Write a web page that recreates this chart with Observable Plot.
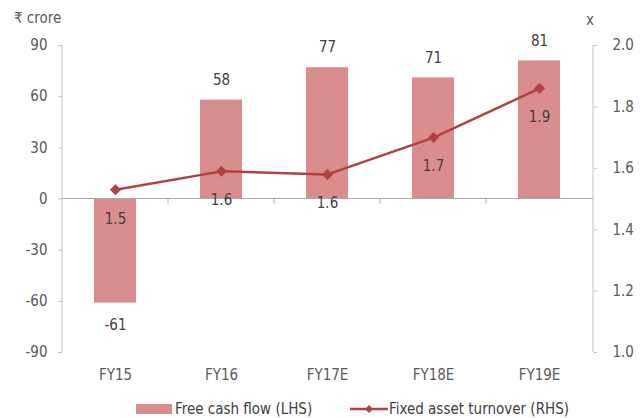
<!DOCTYPE html>
<html>
<head>
<meta charset="utf-8">
<script src="https://cdn.jsdelivr.net/npm/d3@7"></script>
<script src="https://cdn.jsdelivr.net/npm/@observablehq/plot@0.6"></script>
<style>
  body { margin: 0; background: #fff; font-family: "DejaVu Sans Condensed", "DejaVu Sans", sans-serif; }
  #wrap { position: relative; width: 640px; height: 418px; }
  #chart { position: absolute; left: 0; top: 0; }
  .unit { position: absolute; font-size: 15px; color: #595959; line-height: 18px; }
  #legend { position: absolute; top: 400px; left: 0; width: 640px; height: 18px; font-size: 15px; color: #404040; }
  #legend .item { position: absolute; top: 0; display: flex; align-items: center; height: 18px; }
  #legend .box { width: 36px; height: 10px; margin-right: 3px; }
</style>
</head>
<body>
<div id="wrap">
  <div id="chart"></div>
  <div class="unit" style="left:14px;top:9px;">₹ crore</div>
  <div class="unit" style="left:586px;top:11px;">x</div>
  <div id="legend"></div>
</div>
<script>
// Free cash flow (₹ crore, left axis) and fixed asset turnover (x, right axis)
const years = ["FY15", "FY16", "FY17E", "FY18E", "FY19E"];
const freeCashFlow = [-61, 58, 77, 71, 81];
const fixedAssetTurnover = [1.53, 1.59, 1.58, 1.70, 1.86];
const leftTicks = [-90, -60, -30, 0, 30, 60, 90];
const rightTicks = [1.0, 1.2, 1.4, 1.6, 1.8, 2.0];

const barColor = "#d98d8d";
const lineColor = "#b2403f";
const axisColor = "#c0c0c0";

// The right axis (1.0–2.0) is mapped onto the left domain (-90–90)
const rightToLeft = v => (v - 1.5) * 180;
const leftToRight = v => v / 180 + 1.5;

const rows = years.map((year, i) => ({
  year,
  fcf: freeCashFlow[i],
  fat: fixedAssetTurnover[i],
  fatY: rightToLeft(fixedAssetTurnover[i])
}));
const positive = rows.filter(d => d.fcf >= 0);
const negative = rows.filter(d => d.fcf < 0);

// Axis lines on both sides plus category boundary ticks below the zero line
function frameAndTicks(index, scales, values, dimensions) {
  const x = scales.x, y = scales.y;
  const bw = x.bandwidth(), step = x.step();
  const g = d3.create("svg:g").attr("stroke", axisColor).attr("fill", "none");
  const left = dimensions.marginLeft, right = dimensions.width - dimensions.marginRight;
  g.append("line").attr("x1", left).attr("x2", left).attr("y1", y(90)).attr("y2", y(-90));
  g.append("line").attr("x1", right).attr("x2", right).attr("y1", y(90)).attr("y2", y(-90));
  const y0 = y(0);
  g.append("line").attr("x1", left).attr("x2", right).attr("y1", y0).attr("y2", y0).attr("stroke", "#a8a8a8");
  for (let i = 1; i < years.length; i++) {
    const bx = x(years[i]) + bw / 2 - step / 2;
    g.append("line").attr("x1", bx).attr("x2", bx).attr("y1", y0).attr("y2", y0 + 5).attr("stroke", "#a8a8a8");
  }
  return g.node();
}

const chart = Plot.plot({
  width: 640,
  height: 400,
  marginLeft: 62,
  marginRight: 47,
  marginTop: 45,
  marginBottom: 48,
  style: { fontFamily: "'DejaVu Sans Condensed', 'DejaVu Sans', sans-serif", fontSize: "15px", color: "#595959", background: "transparent" },
  x: { domain: years, paddingInner: 0.6, paddingOuter: 0.3, axis: null, label: null },
  y: { domain: [-90, 90], axis: null, label: null },
  marks: [
    Plot.barY(rows, { x: "year", y: "fcf", fill: barColor }),
    frameAndTicks,
    Plot.axisX({ anchor: "bottom", tickSize: 0, tickPadding: 17, fill: "#595959", label: null }),
    Plot.axisY(leftTicks, { anchor: "left", tickSize: 4, tickPadding: 11, stroke: axisColor, fill: "#595959", label: null, tickFormat: d => String(d) }),
    Plot.axisY(rightTicks.map(rightToLeft), { anchor: "right", tickSize: 3, tickPadding: 16, stroke: axisColor, fill: "#595959", label: null, tickFormat: d => leftToRight(d).toFixed(1) }),
    Plot.line(rows, { x: "year", y: "fatY", stroke: lineColor, strokeWidth: 2.5 }),
    Plot.dot(rows, { x: "year", y: "fatY", symbol: "diamond2", r: 4, fill: lineColor, stroke: lineColor, strokeWidth: 1.5 }),
    Plot.text(positive, { x: "year", y: "fcf", text: d => String(d.fcf), dy: -20, fill: "#404040", fontSize: 15 }),
    Plot.text(negative, { x: "year", y: "fcf", text: d => String(d.fcf), dy: 22, fill: "#404040", fontSize: 15 }),
    Plot.text(rows, { x: "year", y: "fatY", text: d => d.fat.toFixed(1), dy: 29, fill: "#404040", fontSize: 15 })
  ]
});
document.getElementById("chart").appendChild(chart);

// Legend below the chart
const legend = d3.select("#legend");
const item1 = legend.append("div").attr("class", "item").style("left", "136px");
item1.append("div").attr("class", "box").style("background", barColor);
item1.append("span").text("Free cash flow (LHS)");
const item2 = legend.append("div").attr("class", "item").style("left", "350px");
const sw = item2.append("svg").attr("width", 38).attr("height", 12).style("margin-right", "1px");
sw.append("line").attr("x1", 0).attr("x2", 38).attr("y1", 6).attr("y2", 6).attr("stroke", lineColor).attr("stroke-width", 2.5);
sw.append("path").attr("d", "M19,2 L23,6 L19,10 L15,6 Z").attr("fill", lineColor);
item2.append("span").text("Fixed asset turnover (RHS)");
</script>
</body>
</html>
